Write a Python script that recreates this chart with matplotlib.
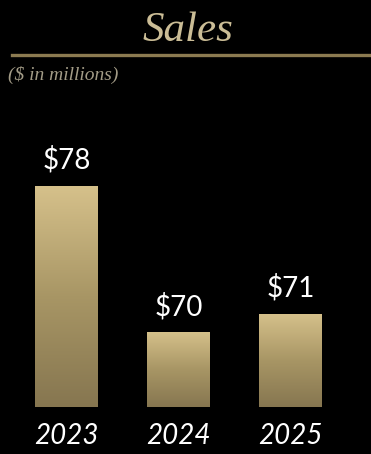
import numpy as np
import matplotlib
matplotlib.use("Agg")
import matplotlib.pyplot as plt
from matplotlib.colors import LinearSegmentedColormap
from matplotlib.lines import Line2D

# Sales figures, $ millions
years = ["2023", "2024", "2025"]
sales = [78, 70, 71]
value_labels = ["$78", "$70", "$71"]

W, H, DPI = 371, 454, 100
fig = plt.figure(figsize=(W / DPI, H / DPI), dpi=DPI, facecolor="black")

# plot area: baseline sits 46.5 px above the bottom edge
px_per_unit = 18.3
y_base = 65.9
ax_bottom_px = 46.5
ax_top_px = H - 100
ax = fig.add_axes([0, ax_bottom_px / H, 1, (ax_top_px - ax_bottom_px) / H])
ax.set_facecolor("black")
spacing = 112.0

x = np.arange(len(years))
bars = ax.bar(x, [v - y_base for v in sales], bottom=y_base, width=0.5625,
              color="none", edgecolor="none")

# gold vertical gradient inside each bar, light at the top
gold = LinearSegmentedColormap.from_list("gold", ["#867650", "#a89665", "#d6c18b"])
grad = np.linspace(0, 1, 256).reshape(-1, 1)
for b in bars:
    x0, y0 = b.get_x(), b.get_y()
    im = ax.imshow(grad, cmap=gold, origin="lower", aspect="auto",
                   extent=[x0, x0 + b.get_width(), y0, y0 + b.get_height()],
                   zorder=2)
    im.set_clip_path(b)
ax.set_xlim(-66.5 / spacing, (W - 66.5) / spacing)
ax.set_ylim(y_base, y_base + (ax_top_px - ax_bottom_px) / px_per_unit)

sans = ["Lato", "DejaVu Sans"]
for xi, v, lab in zip(x, sales, value_labels):
    ax.annotate(lab, (xi, v), xytext=(0, 12.5), textcoords="offset points",
                ha="center", va="baseline", color="white", fontsize=20,
                family=sans, fontweight="normal")

ax.set_xticks(x)
ax.set_xticklabels(years, fontsize=20, color="white", style="italic",
                   family=sans, fontweight="normal")
ax.tick_params(axis="x", length=0, pad=11)
ax.set_yticks([])
for s in ax.spines.values():
    s.set_visible(False)

# heading, rule and unit note
serif = ["Liberation Serif", "DejaVu Serif"]
fig.text(188 / W, 1 - 31 / H, "Sales", ha="center", va="center",
         fontsize=31, style="italic", family=serif, color="#cbbd96")
fig.add_artist(Line2D([12 / W, 1], [1 - 55 / H, 1 - 55 / H], color="#8c7b51",
                      linewidth=2.4, transform=fig.transFigure))
fig.text(8 / W, 1 - 75 / H, "($ in millions)", ha="left", va="center",
         fontsize=14, style="italic", family=serif, color="#a39c87")

fig.savefig("out.png", dpi=DPI, facecolor="black")
